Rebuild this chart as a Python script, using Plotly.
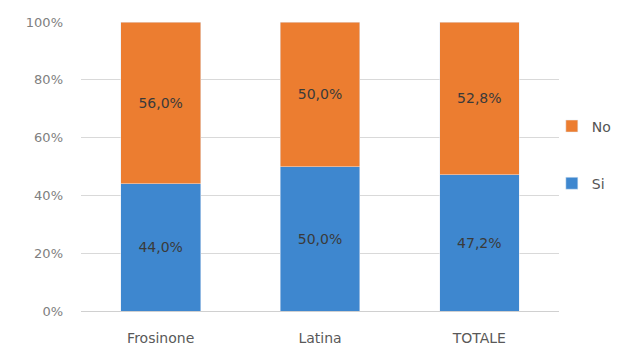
import plotly.graph_objects as go

categories = ["Frosinone", "Latina", "TOTALE"]
si_values = [44.0, 50.0, 47.2]
no_values = [56.0, 50.0, 52.8]
tick_vals = [0, 20, 40, 60, 80, 100]
tick_labels = ["0%", "20%", "40%", "60%", "80%", "100%"]

FONT = "DejaVu Sans, Liberation Sans, sans-serif"

fig = go.Figure()
fig.add_trace(go.Bar(
    x=categories, y=si_values, name="Si", legendgroup="si", legendrank=2,
    marker=dict(color="#3E87CF"),
    texttemplate="%{y:.1f}%", textposition="inside", insidetextanchor="middle",
    textfont=dict(color="#3a3a3a", size=14, family=FONT),
))
fig.add_trace(go.Bar(
    x=categories, y=no_values, name="No", legendgroup="no", legendrank=1,
    marker=dict(color="#EC7D30"),
    texttemplate="%{y:.1f}%", textposition="inside", insidetextanchor="middle",
    textfont=dict(color="#3a3a3a", size=14, family=FONT),
))

fig.update_layout(
    barmode="stack",
    bargap=0.5,
    separators=",.",
    width=636, height=345,
    margin=dict(l=73, r=85, t=14, b=42),
    plot_bgcolor="white", paper_bgcolor="white",
    font=dict(family=FONT, color="#7f7f7f", size=13),
    uniformtext=dict(mode="show", minsize=14),
    legend=dict(
        traceorder="grouped",
        x=0.985, xanchor="left", y=0.54, yanchor="middle",
        font=dict(size=14, color="#555555"),
        tracegroupgap=36,
        bgcolor="rgba(0,0,0,0)",
    ),
    xaxis=dict(showgrid=False, showline=True, linecolor="#d0d0d0",
               tickfont=dict(size=14, color="#595959"), ticks="", automargin=False,
               ticklabelstandoff=14),
    yaxis=dict(range=[0, 100], tickmode="array", tickvals=tick_vals, ticktext=tick_labels,
               showgrid=True, gridcolor="#d9d9d9", zeroline=False, automargin=False,
               tickfont=dict(size=13, color="#808080"), ticklen=0,
               ticklabelstandoff=17),
)

fig.write_html("out.html")
